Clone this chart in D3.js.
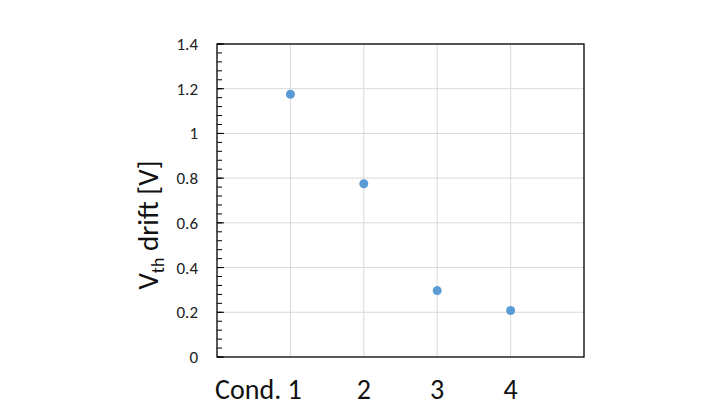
<!DOCTYPE html><html><head><script src="https://cdn.jsdelivr.net/npm/d3@7"></script>
<style>body{margin:0;background:#fff}text{font-family:Calibri,Carlito,"Liberation Sans",sans-serif}</style></head><body>
<script>
const categories=["Cond. 1","2","3","4"];
const values=[1.175,0.775,0.297,0.208];
const yTicks=[0,0.2,0.4,0.6,0.8,1,1.2,1.4];
const svg=d3.select("body").append("svg").attr("width",720).attr("height",409);
const L=217,R=584,T=44,B=357;
const x=d3.scaleLinear().domain([0,5]).range([L,R]);
const y=d3.scaleLinear().domain([0,1.4]).range([B,T]);
const g=svg.append("g");
yTicks.slice(1).forEach(v=>g.append("line").attr("x1",L).attr("x2",R).attr("y1",y(v)).attr("y2",y(v)).attr("stroke","#d9d9d9"));
categories.forEach((c,i)=>g.append("line").attr("x1",x(i+1)).attr("x2",x(i+1)).attr("y1",T).attr("y2",B).attr("stroke","#d9d9d9"));
g.append("rect").attr("x",L).attr("y",T).attr("width",R-L).attr("height",B-T).attr("fill","none").attr("stroke","#000").attr("stroke-width",1.3);
const minor=d3.range(0,1.4001,0.04);
minor.forEach(v=>g.append("line").attr("x1",L).attr("x2",L+5).attr("y1",y(v)).attr("y2",y(v)).attr("stroke","#000"));
yTicks.forEach(v=>{g.append("line").attr("x1",L).attr("x2",L+7).attr("y1",y(v)).attr("y2",y(v)).attr("stroke","#000");
g.append("text").attr("x",198).attr("y",y(v)+6).attr("text-anchor","end").attr("font-size",17).attr("fill","#222").text(v);});
categories.forEach((c,i)=>g.append("text").attr("x",i==0?x(1)-32:x(i+1)).attr("y",399).attr("text-anchor","middle").attr("font-size",28).attr("fill","#111").text(c));
values.forEach((v,i)=>g.append("circle").attr("cx",x(i+1)).attr("cy",y(v)).attr("r",4.5).attr("fill","#5b9bd5"));
const t=g.append("text").attr("transform","translate(158,225) rotate(-90)").attr("text-anchor","middle").attr("font-size",29).attr("fill","#111");
t.append("tspan").text("V");t.append("tspan").attr("font-size",18).attr("dy",6).text("th");t.append("tspan").attr("dy",-6).text(" drift [V]");
</script></body></html>
